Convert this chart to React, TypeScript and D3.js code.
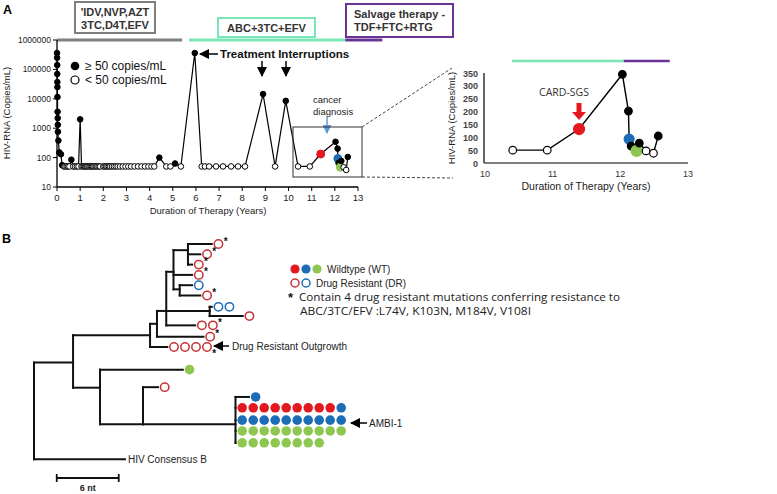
import React from 'react';
import * as d3 from 'd3';

type Pt = [number, number, string];

// ---------- Panel A data ----------
const mainYTicks = [10, 100, 1000, 10000, 100000, 1000000];
const mainXTicks = d3.range(0, 14);
const insetYTicks = [0, 50, 100, 150, 200, 250, 300, 350];
const insetXTicks = [10, 11, 12, 13];

const earlyData: Pt[] = [
  [0.0, 360000, 'f'], [0.005, 250000, 'f'], [0.01, 140000, 'f'], [0.012, 70000, 'f'], [0.015, 37000, 'f'],
  [0.018, 25000, 'f'], [0.02, 11500, 'f'], [0.025, 3600, 'f'], [0.03, 2200, 'f'], [0.035, 1300, 'f'],
  [0.04, 760, 'f'], [0.06, 380, 'f'], [0.1, 150, 'f'], [0.17, 130, 'f'], [0.22, 55, 'f'],
  [0.3, 50, 'o'], [0.36, 50, 'o'], [0.42, 50, 'o'], [0.48, 50, 'o'], [0.54, 50, 'o'],
  [0.62, 85, 'f'], [0.7, 50, 'o'], [0.78, 50, 'o'], [0.86, 50, 'o'], [0.93, 50, 'o'],
  [1.0, 2000, 'f'], [1.06, 50, 'o'], [1.11, 50, 'o'], [1.16, 50, 'o'], [1.21, 50, 'o'], [1.26, 50, 'o'],
  [1.31, 50, 'o'], [1.36, 50, 'o'], [1.41, 50, 'o'], [1.46, 50, 'o'], [1.51, 50, 'o'], [1.56, 50, 'o'],
  [1.62, 50, 'o'], [1.68, 50, 'o'], [1.74, 50, 'o'], [1.8, 50, 'o'], [1.86, 50, 'o'],
  [2.0, 50, 'o'], [2.06, 50, 'o'], [2.12, 50, 'o'], [2.18, 50, 'o'], [2.24, 50, 'o'], [2.3, 50, 'o'],
  [2.38, 50, 'o'], [2.46, 50, 'o'], [2.54, 50, 'o'], [2.62, 50, 'o'], [2.72, 50, 'o'], [2.84, 50, 'o'],
  [2.96, 50, 'o'], [3.08, 50, 'o'], [3.2, 50, 'o'], [3.35, 50, 'o'], [3.5, 50, 'o'], [3.65, 50, 'o'],
  [3.8, 50, 'o'], [3.95, 50, 'o'], [4.08, 50, 'o'], [4.2, 50, 'o'],
  [4.42, 100, 'f'], [4.72, 50, 'o'], [4.9, 50, 'o'], [5.1, 63, 'f'], [5.35, 50, 'o'],
  [5.95, 360000, 'f'], [6.25, 50, 'o'], [6.39, 50, 'o'], [6.57, 50, 'o'], [6.87, 50, 'o'],
  [7.17, 50, 'o'], [7.52, 50, 'o'], [7.82, 50, 'o'], [8.12, 50, 'o'],
  [8.9, 14500, 'f'], [9.42, 50, 'o'], [9.88, 8500, 'f'],
];

const lateData: Pt[] = [
  [10.41, 50, 'o'], [10.92, 50, 'o'], [11.39, 132, 'R'], [12.03, 345, 'f'], [12.12, 202, 'f'],
  [12.13, 93, 'B'], [12.16, 66, 'f'], [12.24, 47, 'G'], [12.28, 77, 'f'], [12.38, 47, 'o'],
  [12.49, 38, 'o'], [12.56, 105, 'f'],
];

// therapy periods [start, end] in years
const mainGray = [0, 5.4];
const mainGreen = [5.7, 12.45];
const mainPurple = [12.45, 14.05];
const insetGreen = [10.4, 12.05];
const insetPurple = [12.05, 12.73];

// ---------- Panel B data ----------
type TNode = { id: string; parent: string | null; dist: number; row: number; marks?: string; star?: string; label?: string };
const treeNodes: TNode[] = [
  { id: 'root', parent: null, dist: 0, row: 11.5 },
  { id: 'n1', parent: 'root', dist: 3.78, row: 11.5 },
  { id: 'cons', parent: 'root', dist: 8.8, row: 20.9, label: 'HIV Consensus B' },
  { id: 'n2', parent: 'n1', dist: 11.23, row: 8.85 },
  { id: 'n3', parent: 'n1', dist: 6.39, row: 13.95 },
  { id: 'out', parent: 'n2', dist: 12.9, row: 10, marks: 'rrrr', star: 'low' },
  { id: 'n5', parent: 'n2', dist: 11.9, row: 7.75 },
  { id: 'lA', parent: 'n5', dist: 16.4, row: 9, marks: 'r', star: 'up' },
  { id: 'n6', parent: 'n5', dist: 12.8, row: 6.5 },
  { id: 'lB', parent: 'n6', dist: 15.6, row: 7.9, marks: 'rr', star: 'up' },
  { id: 'e', parent: 'n6', dist: 17.0, row: 6.5 },
  { id: 'lBlue2', parent: 'e', dist: 17.2, row: 6.1, marks: 'bb' },
  { id: 'lRed', parent: 'e', dist: 20.2, row: 7, marks: 'r' },
  { id: 'n7', parent: 'n6', dist: 13.5, row: 2.7 },
  { id: 'n8', parent: 'n7', dist: 14.9, row: 0.6 },
  { id: 'l0', parent: 'n8', dist: 17.2, row: 0, marks: 'r', star: 'up' },
  { id: 'l1', parent: 'n8', dist: 16.1, row: 1, marks: 'r', star: 'up' },
  { id: 'l2', parent: 'n8', dist: 15.3, row: 2, marks: 'r', star: 'up' },
  { id: 'l3', parent: 'n7', dist: 15.3, row: 3, marks: 'r', star: 'up' },
  { id: 'n9', parent: 'n7', dist: 14.1, row: 4.4 },
  { id: 'l4', parent: 'n9', dist: 15.3, row: 4, marks: 'b' },
  { id: 'l5', parent: 'n9', dist: 16.1, row: 5, marks: 'r', star: 'up' },
  { id: 'lG', parent: 'n3', dist: 14.4, row: 12.2, marks: 'G' },
  { id: 'n4', parent: 'n3', dist: 10.55, row: 17.5 },
  { id: 'lR', parent: 'n4', dist: 12.0, row: 13.9, marks: 'r' },
  { id: 'amb', parent: 'n4', dist: 19.5, row: 17.5 },
  { id: 'lb', parent: 'amb', dist: 20.8, row: 14.85, marks: 'B' },
  { id: 'a1', parent: 'amb', dist: 19.5, row: 15.9, marks: 'RRRRRRRRRB' },
  { id: 'a2', parent: 'amb', dist: 19.5, row: 17.1, marks: 'BBBBBBBBBB' },
  { id: 'a3', parent: 'amb', dist: 19.5, row: 18.15, marks: 'GGGGGGGGGG' },
  { id: 'a4', parent: 'amb', dist: 19.5, row: 19.3, marks: 'GGGGGGGG' },
];
const scaleBarStart = 2.2;
const scaleBarLen = 6;

const RED = '#e3191f';
const BLUE = '#1c6db5';
const GREEN = '#8dc751';
const OPEN_RED = '#c53137';
const TEAL = '#7be6b5';
const PURPLE = '#6a3495';

const ARIAL = 'Liberation Sans, Arial, sans-serif';
const CAL = 'Open Sans, sans-serif';

function markStyle(k: string) {
  switch (k) {
    case 'f': return { fill: '#000', stroke: '#000' };
    case 'o': return { fill: '#fff', stroke: '#000' };
    case 'R': return { fill: RED, stroke: RED };
    case 'B': return { fill: BLUE, stroke: BLUE };
    case 'G': return { fill: GREEN, stroke: GREEN };
    default: return { fill: '#000', stroke: '#000' };
  }
}

const insetRadius: Record<string, number> = { f: 3.8, o: 3.8, R: 5.5, B: 5, G: 5.5 };

export default function App() {
  const xM = d3.scaleLinear().domain([0, 13]).range([57, 358]);
  const yM = d3.scaleLog().domain([10, 1e6]).range([187, 40]);
  const xI = d3.scaleLinear().domain([10, 13]).range([485, 688]);
  const yI = d3.scaleLinear().domain([0, 350]).range([163, 73]);
  const mainAll = [...earlyData, ...lateData];
  const lineM = d3.line<Pt>().x(d => xM(d[0])).y(d => yM(d[1]));
  const lineI = d3.line<Pt>().x(d => xI(d[0])).y(d => yI(d[1]));

  const xT = d3.scaleLinear().domain([0, 6]).range([34, 96]);
  const yT = d3.scaleLinear().domain([0, 1]).range([244, 254.3]);
  const byId = new Map(treeNodes.map(n => [n.id, n]));
  const children = d3.group(treeNodes.filter(n => n.parent), n => n.parent as string);

  const markSpacing = 11;
  const mr = 4.2;

  return (
    <svg width={777} height={494} style={{ position: 'absolute', left: 0, top: 0, background: '#fff' }} fontFamily={ARIAL}>
      <defs>
        <marker id="ah" viewBox="0 0 10 10" refX="9" refY="5" markerWidth="7" markerHeight="7" orient="auto-start-reverse">
          <path d="M0,0 L10,5 L0,10 z" fill="#000" />
        </marker>
        <marker id="ahb" viewBox="0 0 10 10" refX="9" refY="5" markerWidth="6" markerHeight="6" orient="auto-start-reverse">
          <path d="M0,0 L10,5 L0,10 z" fill="#5b9bd5" />
        </marker>
      </defs>
      <rect width={777} height={494} fill="#fff" />

      {/* Panel labels */}
      <text x={3} y={14} fontSize={12.5} fontWeight="bold">A</text>
      <text x={2} y={243} fontSize={12.5} fontWeight="bold">B</text>

      {/* ---- Main chart ---- */}
      <line x1={xM(mainGray[0])} x2={xM(mainGray[1])} y1={40} y2={40} stroke="#7f7f7f" strokeWidth={3} />
      <line x1={xM(mainGreen[0])} x2={xM(mainGreen[1])} y1={40} y2={40} stroke={TEAL} strokeWidth={3} />
      <line x1={xM(mainPurple[0])} x2={xM(mainPurple[1])} y1={40} y2={40} stroke={PURPLE} strokeWidth={3} />

      <rect x={75} y={2} width={80} height={31} fill="#fff" stroke="#7f7f7f" strokeWidth={2} />
      <text x={115} y={16} fontSize={11} fontWeight="bold" textAnchor="middle" fill="#333">'IDV,NVP,AZT</text>
      <text x={115} y={29} fontSize={11} fontWeight="bold" textAnchor="middle" fill="#333">3TC,D4T,EFV</text>
      <rect x={218} y={18} width={97} height={19} fill="#fff" stroke={TEAL} strokeWidth={2} />
      <text x={266.5} y={31.5} fontSize={11} fontWeight="bold" textAnchor="middle" fill="#333">ABC+3TC+EFV</text>
      <rect x={346} y={4} width={107} height={33} fill="#fff" stroke={PURPLE} strokeWidth={2} />
      <text x={354} y={18} fontSize={11} fontWeight="bold" fill="#333">Salvage therapy -</text>
      <text x={354} y={31} fontSize={11} fontWeight="bold" fill="#333">TDF+FTC+RTG</text>

      <line x1={57} x2={57} y1={40} y2={187} stroke="#000" strokeWidth={1.3} />
      <line x1={57} x2={358} y1={187} y2={187} stroke="#000" strokeWidth={1.3} />
      {mainYTicks.map(t => (
        <g key={t}>
          <line x1={53} x2={57} y1={yM(t)} y2={yM(t)} stroke="#000" />
          <text x={51} y={yM(t) + 3} fontSize={8.5} textAnchor="end" fill="#222">{t}</text>
        </g>
      ))}
      {mainXTicks.map(t => (
        <g key={t}>
          <line x1={xM(t)} x2={xM(t)} y1={187} y2={191} stroke="#000" />
          <text x={xM(t)} y={201} fontSize={9.5} textAnchor="middle" fill="#222">{t}</text>
        </g>
      ))}
      <text x={208} y={214} fontSize={9.5} textAnchor="middle" fill="#222">Duration of Therapy (Years)</text>
      <text transform="translate(10,113) rotate(-90)" fontSize={9.5} textAnchor="middle" fill="#222">HIV-RNA (Copies/mL)</text>

      <circle cx={75} cy={66} r={4.3} fill="#000" />
      <text x={85} y={70} fontSize={12} fill="#111">≥ 50 copies/mL</text>
      <circle cx={75} cy={80} r={4} fill="#fff" stroke="#000" strokeWidth={1.2} />
      <text x={85} y={84} fontSize={12} fill="#111">&lt; 50 copies/mL</text>

      <path d={lineM(mainAll) || ''} fill="none" stroke="#000" strokeWidth={1.2} />
      {mainAll.map((d, i) => {
        const s = markStyle(d[2]);
        const colored = d[2] === 'R' || d[2] === 'B' || d[2] === 'G';
        return <circle key={i} cx={xM(d[0])} cy={yM(d[1])} r={colored ? 4 : 2.8} fill={s.fill} stroke={s.stroke} strokeWidth={1} />;
      })}

      <text x={220} y={58} fontSize={11.5} fontWeight="bold" fill="#111">Treatment Interruptions</text>
      <line x1={218} x2={200} y1={54} y2={54} stroke="#000" strokeWidth={1.5} markerEnd="url(#ah)" />
      <line x1={262} x2={262} y1={61} y2={76} stroke="#000" strokeWidth={1.5} markerEnd="url(#ah)" />
      <line x1={286} x2={286} y1={61} y2={76} stroke="#000" strokeWidth={1.5} markerEnd="url(#ah)" />
      <text x={313} y={103} fontSize={9.5} fill="#222">cancer</text>
      <text x={313} y={115} fontSize={9.5} fill="#222">diagnosis</text>
      <line x1={327} x2={327} y1={117} y2={133} stroke="#5b9bd5" strokeWidth={1.5} markerEnd="url(#ahb)" />

      <rect x={293} y={127} width={69} height={50} fill="none" stroke="#333" strokeWidth={1} />
      <line x1={362} y1={127} x2={452} y2={68} stroke="#444" strokeDasharray="3,2" />
      <line x1={362} y1={177} x2={453} y2={178} stroke="#444" strokeDasharray="3,2" />

      {/* ---- Inset ---- */}
      <line x1={xI(insetGreen[0])} x2={xI(insetGreen[1])} y1={61} y2={61} stroke={TEAL} strokeWidth={2.5} />
      <line x1={xI(insetPurple[0])} x2={xI(insetPurple[1])} y1={61} y2={61} stroke={PURPLE} strokeWidth={2.5} />
      <line x1={484} x2={484} y1={73} y2={163} stroke="#000" strokeWidth={1.2} />
      <line x1={484} x2={688} y1={163} y2={163} stroke="#000" strokeWidth={1.2} />
      {insetYTicks.map(t => (
        <text key={t} x={478} y={yI(t) + 3.5} fontSize={9} fontWeight="bold" textAnchor="end" fill="#444">{t}</text>
      ))}
      {insetXTicks.map(t => (
        <text key={t} x={xI(t)} y={177} fontSize={9} textAnchor="middle" fill="#333">{t}</text>
      ))}
      <text x={586} y={190} fontSize={10.5} textAnchor="middle" fill="#222">Duration of Therapy (Years)</text>
      <text transform="translate(455,118) rotate(-90)" fontSize={9.5} textAnchor="middle" fill="#222">HIV-RNA (Copies/mL)</text>
      <path d={lineI(lateData) || ''} fill="none" stroke="#000" strokeWidth={1.4} />
      {lateData.map((d, i) => {
        const s = markStyle(d[2]);
        return <circle key={i} cx={xI(d[0])} cy={yI(d[1])} r={insetRadius[d[2]]} fill={s.fill} stroke={s.stroke} strokeWidth={1.2} />;
      })}
      <text x={564} y={96} fontSize={10.5} textAnchor="middle" fill="#333" fontFamily={CAL}>CARD-SGS</text>
      <path d="M576.5,103 h5 v9 h4.5 l-7,8 l-7,-8 h4.5 z" fill={RED} />

      {/* ---- Panel B: tree ---- */}
      <g stroke="#111" strokeWidth={2} fill="none" strokeLinecap="square">
        {treeNodes.filter(n => n.parent).map(n => {
          const p = byId.get(n.parent as string)!;
          return <line key={'h' + n.id} x1={xT(p.dist)} x2={xT(n.dist)} y1={yT(n.row)} y2={yT(n.row)} />;
        })}
        {treeNodes.filter(n => children.has(n.id)).map(n => {
          const rows = [n.row, ...children.get(n.id)!.map(c => c.row)];
          return <line key={'v' + n.id} x1={xT(n.dist)} x2={xT(n.dist)} y1={yT(d3.min(rows)!)} y2={yT(d3.max(rows)!)} />;
        })}
      </g>
      {treeNodes.filter(n => n.marks).map(n => {
        const x0 = xT(n.dist) + mr + 2.5;
        const y = yT(n.row);
        const ms = n.marks!.split('');
        const lastX = x0 + (ms.length - 1) * markSpacing;
        return (
          <g key={'m' + n.id}>
            {ms.map((m, i) => {
              const cx = x0 + i * markSpacing;
              if (m === 'r' || m === 'b') {
                return <circle key={i} cx={cx} cy={y} r={mr} fill="#fff" stroke={m === 'r' ? OPEN_RED : BLUE} strokeWidth={1.5} />;
              }
              const col = m === 'R' ? RED : m === 'B' ? BLUE : GREEN;
              return <circle key={i} cx={cx} cy={y} r={mr + 0.6} fill={col} />;
            })}
            {n.star && (
              <text x={lastX + 5.2} y={n.star === 'low' ? y + 10 : y + 0.5} fontSize={10} fontWeight="bold" fill="#111">*</text>
            )}
          </g>
        );
      })}
      {treeNodes.filter(n => n.label).map(n => (
        <text key={'l' + n.id} x={xT(n.dist) + 3} y={yT(n.row) + 3.5} fontSize={10} fill="#222">{n.label}</text>
      ))}
      <line x1={229} x2={214} y1={346} y2={346} stroke="#000" strokeWidth={1.5} markerEnd="url(#ah)" />
      <text x={232} y={350} fontSize={10} fill="#222">Drug Resistant Outgrowth</text>
      <line x1={367} x2={351} y1={423} y2={423} stroke="#000" strokeWidth={1.5} markerEnd="url(#ah)" />
      <text x={369} y={427} fontSize={10} fill="#222">AMBI-1</text>

      <g stroke="#111" strokeWidth={1.8}>
        <line x1={xT(scaleBarStart)} x2={xT(scaleBarStart + scaleBarLen)} y1={478} y2={478} />
        <line x1={xT(scaleBarStart)} x2={xT(scaleBarStart)} y1={474} y2={482} />
        <line x1={xT(scaleBarStart + scaleBarLen)} x2={xT(scaleBarStart + scaleBarLen)} y1={474} y2={482} />
      </g>
      <text x={xT(scaleBarStart + scaleBarLen / 2)} y={491} fontSize={9} fontWeight="bold" textAnchor="middle" fill="#222">6 nt</text>

      <circle cx={295} cy={269} r={4.6} fill={RED} />
      <circle cx={306} cy={269} r={4.6} fill={BLUE} />
      <circle cx={317} cy={269} r={4.6} fill={GREEN} />
      <text x={327} y={272.5} fontSize={10} fill="#222">Wildtype (WT)</text>
      <circle cx={295} cy={283} r={4} fill="#fff" stroke={OPEN_RED} strokeWidth={1.5} />
      <circle cx={306} cy={283} r={4} fill="#fff" stroke={BLUE} strokeWidth={1.5} />
      <text x={316} y={286.5} fontSize={10} fill="#222">Drug Resistant (DR)</text>
      <text x={288} y={302} fontSize={13} fontWeight="bold" fill="#111">*</text>
      <text x={299} y={301} fontSize={11.5} fill="#222" fontFamily={CAL} textLength={321} lengthAdjust="spacingAndGlyphs">Contain 4 drug resistant mutations conferring resistance to</text>
      <text x={300} y={315} fontSize={11.5} fill="#222" fontFamily={CAL} textLength={231} lengthAdjust="spacingAndGlyphs">ABC/3TC/EFV :L74V, K103N, M184V, V108I</text>
    </svg>
  );
}
